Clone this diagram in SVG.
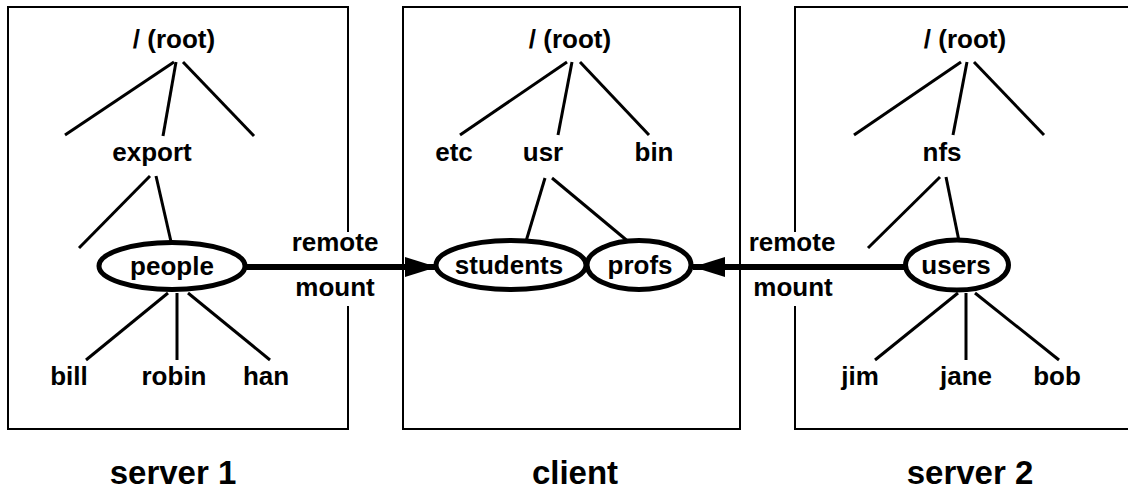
<svg xmlns="http://www.w3.org/2000/svg" width="1128" height="491" viewBox="0 0 1128 491">
<style>
  .box{fill:none;stroke:#000;stroke-width:2}
  .edge{stroke:#000;stroke-width:3;fill:none}
  .ell{fill:#fff;stroke:#000;stroke-width:5}
  .t{font-family:"Liberation Sans",Arial,sans-serif;font-weight:bold;font-size:26px;text-anchor:middle;fill:#000}
  .big{font-family:"Liberation Sans",Arial,sans-serif;font-weight:bold;font-size:33px;text-anchor:middle;fill:#000}
  .mount{stroke:#000;stroke-width:6;fill:none}
</style>
<defs>
  <marker id="ah" viewBox="0 0 32 20" refX="32" refY="10" markerWidth="32" markerHeight="20" markerUnits="userSpaceOnUse" orient="auto">
    <path d="M0,0 L32,10 L0,20 Z" fill="#000"/>
  </marker>
</defs>
<rect width="1128" height="491" fill="#fff"/>

<g id="server1">
  <path class="box" d="M348,232 L348,7 L8,7 L8,429 L348,429 L348,306"/>
  <text class="big" x="173" y="484">server 1</text>
</g>
<g id="client">
  <rect class="box" x="403" y="7" width="337" height="422"/>
  <text class="big" x="575" y="484">client</text>
</g>
<g id="server2">
  <path class="box" d="M795,232 L795,7 L1140,7 M1140,429 L795,429 L795,306"/>
  <text class="big" x="970" y="484">server 2</text>
</g>

<g id="connectors">
  <!-- server 1 tree -->
  <line class="edge" x1="174" y1="62" x2="65" y2="135"/>
  <line class="edge" x1="176" y1="62" x2="163" y2="136"/>
  <line class="edge" x1="183" y1="62" x2="254" y2="136"/>
  <line class="edge" x1="150" y1="176" x2="79" y2="248"/>
  <line class="edge" x1="156" y1="176" x2="172" y2="246"/>
  <line class="edge" x1="168" y1="293" x2="86" y2="360"/>
  <line class="edge" x1="177" y1="293" x2="177" y2="360"/>
  <line class="edge" x1="188" y1="293" x2="270" y2="360"/>
  <!-- client tree -->
  <line class="edge" x1="567" y1="62" x2="460" y2="135"/>
  <line class="edge" x1="572" y1="62" x2="558" y2="135"/>
  <line class="edge" x1="580" y1="62" x2="649" y2="135"/>
  <line class="edge" x1="545" y1="178" x2="524" y2="248"/>
  <line class="edge" x1="552" y1="178" x2="636" y2="248"/>
  <!-- server 2 tree -->
  <line class="edge" x1="961" y1="62" x2="854" y2="135"/>
  <line class="edge" x1="967" y1="62" x2="953" y2="135"/>
  <line class="edge" x1="974" y1="62" x2="1044" y2="135"/>
  <line class="edge" x1="940" y1="177" x2="868" y2="248"/>
  <line class="edge" x1="946" y1="177" x2="960" y2="246"/>
  <line class="edge" x1="958" y1="293" x2="875" y2="360"/>
  <line class="edge" x1="966" y1="293" x2="966" y2="360"/>
  <line class="edge" x1="975" y1="293" x2="1059" y2="360"/>
  <!-- remote mounts -->
  <line class="mount" x1="246" y1="267" x2="437" y2="267" marker-end="url(#ah)"/>
  <line class="mount" x1="905" y1="267" x2="693" y2="267" marker-end="url(#ah)"/>
  <text class="t" x="335" y="251">remote</text>
  <text class="t" x="335" y="296">mount</text>
  <text class="t" x="792" y="251">remote</text>
  <text class="t" x="793" y="296">mount</text>
</g>

<g id="s1-root"><text class="t" x="174" y="48">/ (root)</text></g>
<g id="s1-export"><text class="t" x="152" y="161">export</text></g>
<g id="s1-people"><ellipse class="ell" cx="172" cy="266" rx="73" ry="23.5"/><text class="t" x="172" y="275">people</text></g>
<g id="s1-bill"><text class="t" x="69" y="385">bill</text></g>
<g id="s1-robin"><text class="t" x="174" y="385">robin</text></g>
<g id="s1-han"><text class="t" x="266" y="385">han</text></g>

<g id="c-root"><text class="t" x="570" y="48">/ (root)</text></g>
<g id="c-etc"><text class="t" x="454" y="161">etc</text></g>
<g id="c-usr"><text class="t" x="543" y="161">usr</text></g>
<g id="c-bin"><text class="t" x="654" y="161">bin</text></g>
<g id="c-students"><ellipse class="ell" cx="511" cy="265" rx="75" ry="24.5"/><text class="t" x="509" y="274">students</text></g>
<g id="c-profs"><ellipse class="ell" cx="639" cy="265" rx="52" ry="24.5"/><text class="t" x="640" y="274">profs</text></g>

<g id="s2-root"><text class="t" x="965" y="48">/ (root)</text></g>
<g id="s2-nfs"><text class="t" x="942" y="161">nfs</text></g>
<g id="s2-users"><ellipse class="ell" cx="957" cy="265" rx="51.5" ry="25"/><text class="t" x="956" y="274">users</text></g>
<g id="s2-jim"><text class="t" x="860" y="385">jim</text></g>
<g id="s2-jane"><text class="t" x="966" y="385">jane</text></g>
<g id="s2-bob"><text class="t" x="1057" y="385">bob</text></g>
</svg>
